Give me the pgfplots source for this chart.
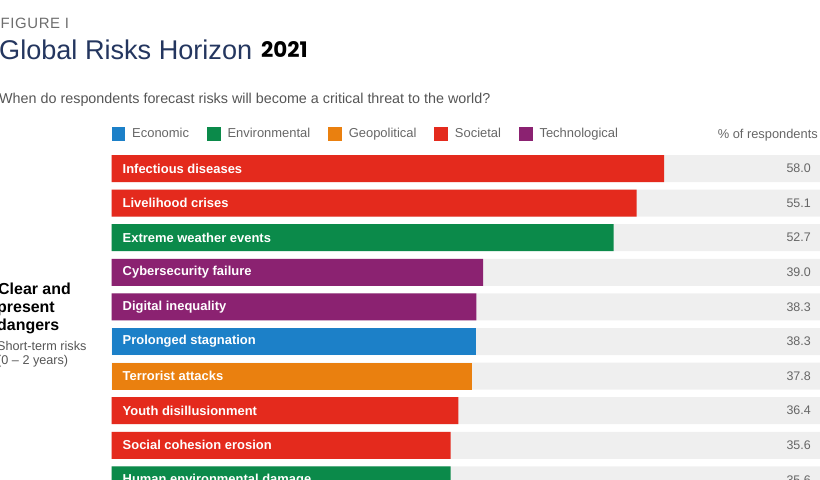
\documentclass[border=0pt]{standalone}
\usepackage{fontspec}
\setmainfont{Liberation Sans}
\newfontfamily\pop{Poppins}
\usepackage{pgfplots}
\pgfplotsset{compat=1.18}
\definecolor{cEco}{HTML}{1C80C8}
\definecolor{cEnv}{HTML}{0B8A4A}
\definecolor{cGeo}{HTML}{EA800F}
\definecolor{cSoc}{HTML}{E42A1D}
\definecolor{cTec}{HTML}{8B2271}
\definecolor{bggray}{HTML}{EFEFEF}
\definecolor{navy}{HTML}{24365F}
\definecolor{figgray}{HTML}{6D6D6D}
\definecolor{subgray}{HTML}{555555}
\definecolor{leggray}{HTML}{666666}
\definecolor{valgray}{HTML}{666666}
\pgfplotsset{sqlegend/.style={legend image code/.code={\fill[##1] (0bp,-6.75bp) rectangle (13.5bp,6.75bp);}}}
\begin{document}
\begin{tikzpicture}
\useasboundingbox (0,0) rectangle (820bp,480bp);
\clip (0,0) rectangle (820bp,480bp);
\node[anchor=base west, inner sep=0, text=figgray] at (0.5bp,451bp) {\fontsize{15}{18}\selectfont\addfontfeatures{LetterSpace=4}FIGURE I};
\node[anchor=base west, inner sep=0, text=navy] at (-1bp,420bp) {\fontsize{27.2}{30}\selectfont Global Risks Horizon};
\node[anchor=base west, inner sep=0, text=black] at (261bp,422.7bp) {\pop\bfseries\fontsize{21.5}{24}\selectfont 2021};
\node[anchor=base west, inner sep=0, text=subgray] at (-1bp,376.5bp) {\fontsize{14.4}{16}\selectfont When do respondents forecast risks will become a critical threat to the world?};
\node[anchor=base west, inner sep=0, text=black] at (-2bp,185bp) {\bfseries\fontsize{16}{18}\selectfont Clear and};
\node[anchor=base west, inner sep=0, text=black] at (-3bp,167bp) {\bfseries\fontsize{16}{18}\selectfont present};
\node[anchor=base west, inner sep=0, text=black] at (-3bp,149bp) {\bfseries\fontsize{16}{18}\selectfont dangers};
\node[anchor=base west, inner sep=0, text=subgray] at (-3bp,129.3bp) {\fontsize{12.7}{15}\selectfont Short-term risks};
\node[anchor=base west, inner sep=0, text=subgray] at (-3bp,115bp) {\fontsize{12.7}{15}\selectfont (0 – 2 years)};
\node[anchor=base east, inner sep=0, text=leggray] at (818bp,341bp) {\fontsize{12.9}{15}\selectfont \% of respondents};
\begin{axis}[
  at={(111.5bp,-17.2bp)}, anchor=south west,
  scale only axis, width=708.5bp, height=346bp,
  xmin=0, xmax=74.35, ymin=-0.5, ymax=9.5, y dir=reverse,
  axis line style={draw=none}, major tick length=0pt, xtick=\empty,
  ytick={0,...,9},
  yticklabels={Infectious diseases, Livelihood crises, Extreme weather events, Cybersecurity failure, Digital inequality, Prolonged stagnation, Terrorist attacks, Youth disillusionment, Social cohesion erosion, Human environmental damage},
  yticklabel style={anchor=west, inner sep=0pt, xshift=11bp, text=white, font=\bfseries\fontsize{13}{15}\selectfont},
  axis on top,
  legend columns=5,
  legend style={at={(0,1)}, anchor=west, yshift=17.2bp, draw=none, fill=none, inner sep=0pt,
    font=\fontsize{13}{15}\selectfont, text=leggray,
    /tikz/every odd column/.append style={column sep=5bp},
    /tikz/every even column/.append style={column sep=16bp}},
  legend cell align=left,
]
\addplot[xbar, bar shift=0pt, bar width=27bp, fill=bggray, draw=none, forget plot]
  coordinates {(80,0) (80,1) (80,2) (80,3) (80,4) (80,5) (80,6) (80,7) (80,8) (80,9)};
\addplot[xbar, bar shift=0pt, bar width=27bp, fill=cEco, draw=none, sqlegend]
  coordinates {(38.3,5)};
\addplot[xbar, bar shift=0pt, bar width=27bp, fill=cEnv, draw=none, sqlegend]
  coordinates {(52.7,2) (35.6,9)};
\addplot[xbar, bar shift=0pt, bar width=27bp, fill=cGeo, draw=none, sqlegend]
  coordinates {(37.8,6)};
\addplot[xbar, bar shift=0pt, bar width=27bp, fill=cSoc, draw=none, sqlegend]
  coordinates {(58.0,0) (55.1,1) (36.4,7) (35.6,8)};
\addplot[xbar, bar shift=0pt, bar width=27bp, fill=cTec, draw=none, sqlegend]
  coordinates {(39.0,3) (38.3,4)};
\legend{Economic, Environmental, Geopolitical, Societal, Technological}
\addplot[draw=none, mark=none, forget plot, nodes near coords, point meta=explicit symbolic,
  every node near coord/.append style={anchor=east, inner sep=0pt, text=valgray, font=\fontsize{12.5}{15}\selectfont}]
  coordinates {(73.4,0) [58.0] (73.4,1) [55.1] (73.4,2) [52.7] (73.4,3) [39.0] (73.4,4) [38.3]
               (73.4,5) [38.3] (73.4,6) [37.8] (73.4,7) [36.4] (73.4,8) [35.6] (73.4,9) [35.6]};
\end{axis}
\end{tikzpicture}
\end{document}
